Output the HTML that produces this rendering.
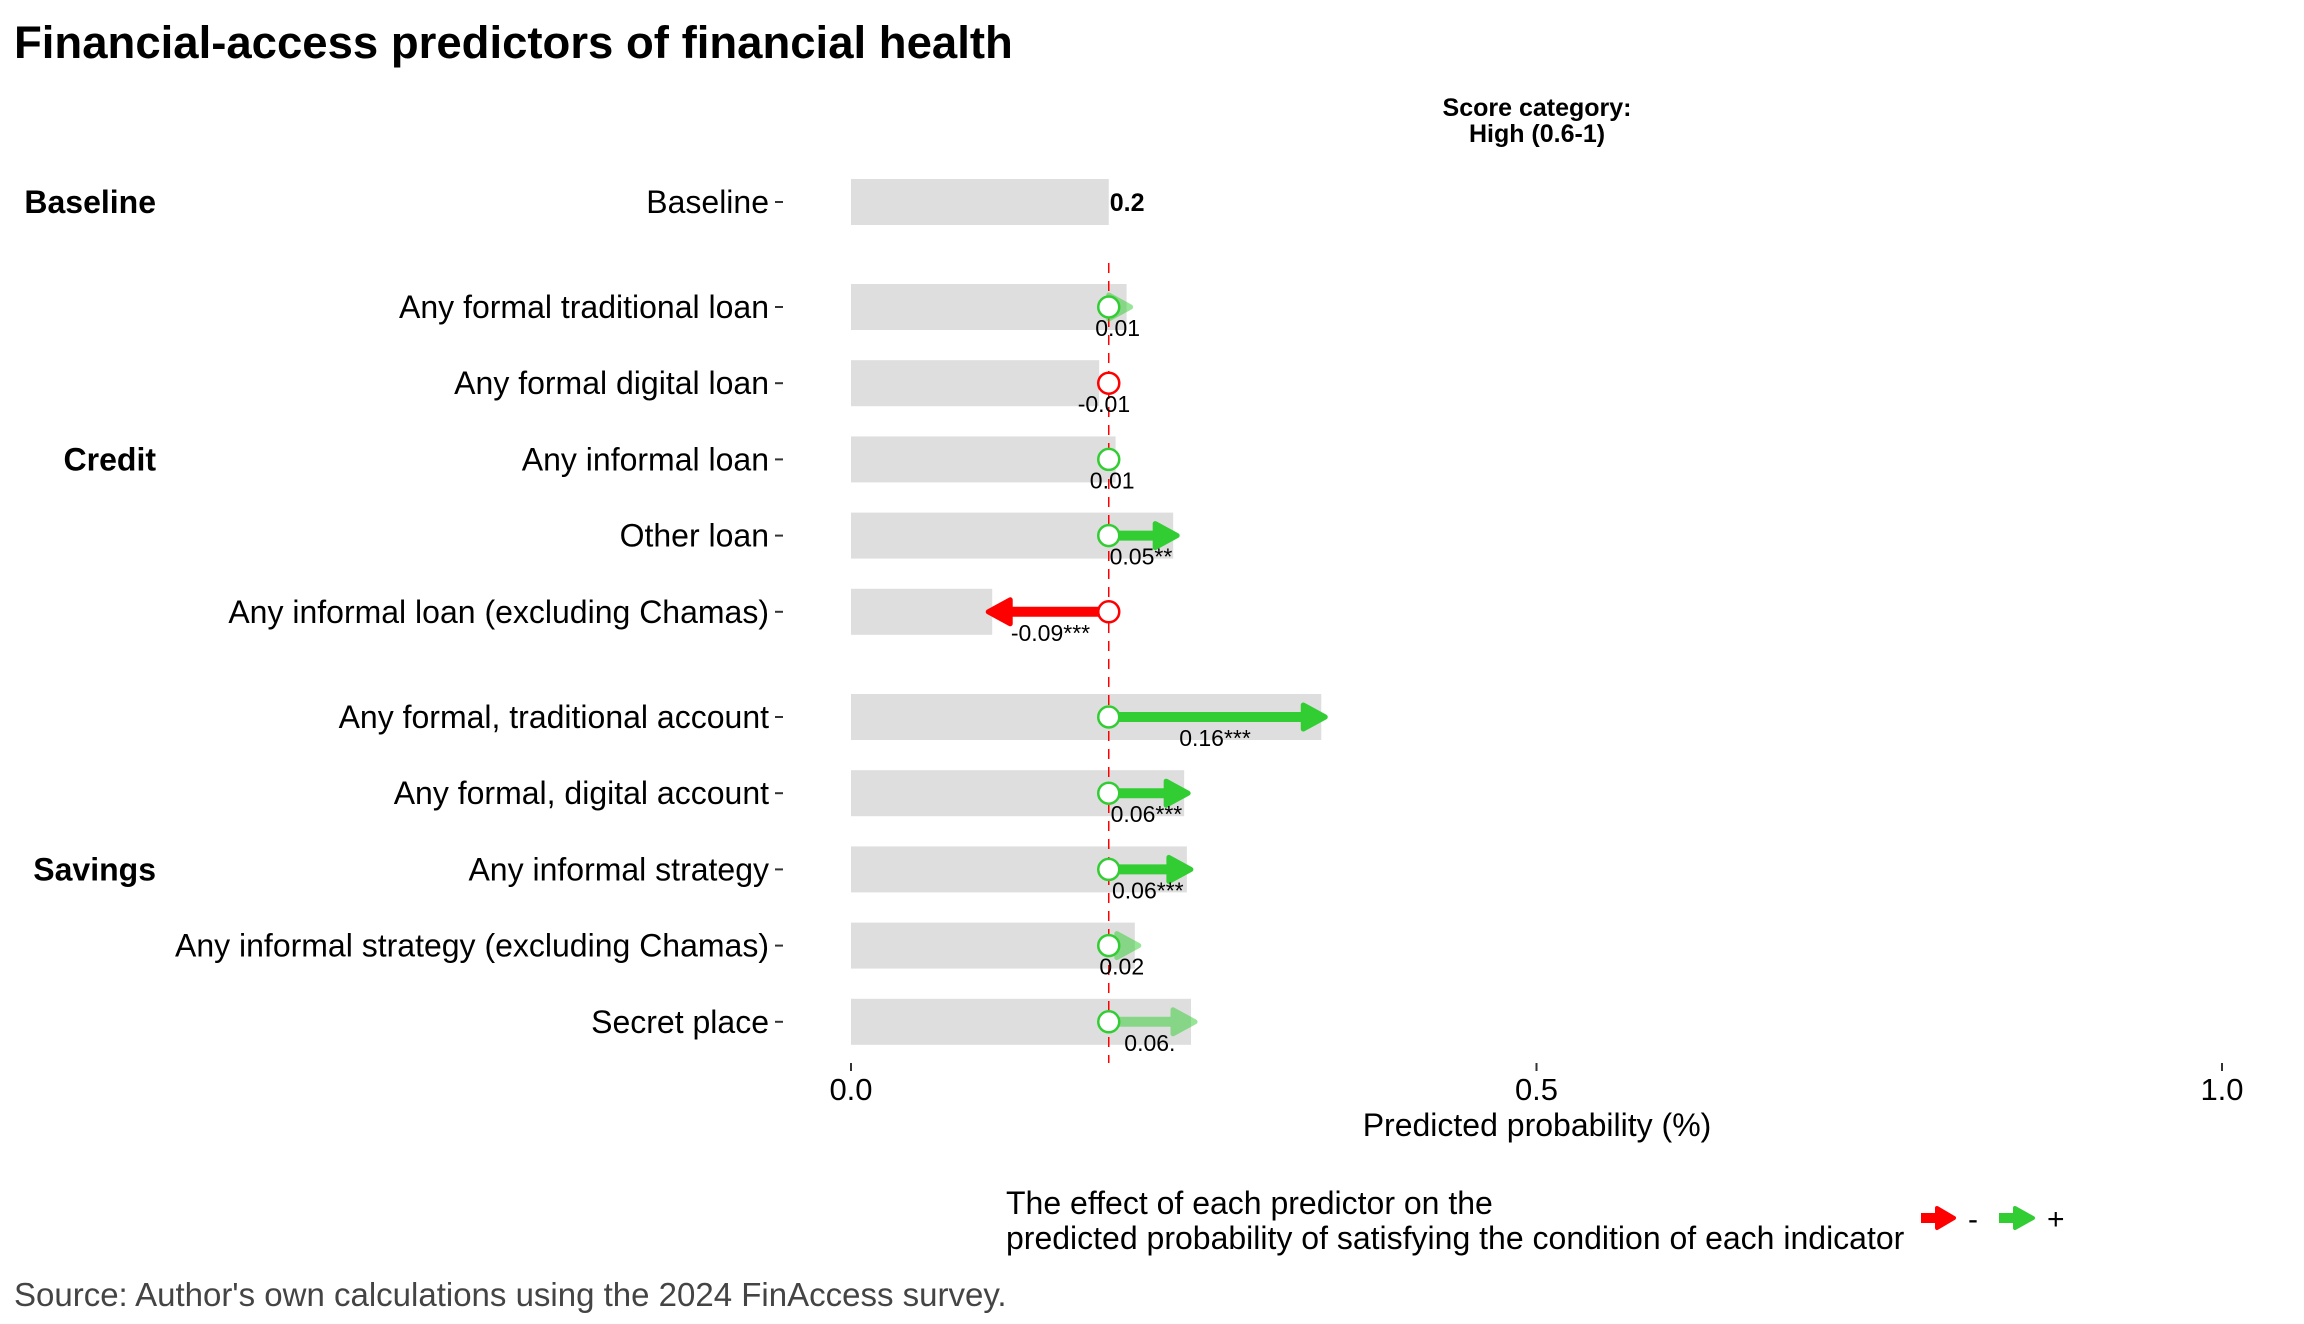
<!DOCTYPE html>
<html><head><meta charset="utf-8"><style>
html,body{margin:0;padding:0;background:#fff;}
svg{display:block;font-family:"Liberation Sans",Arial,sans-serif;}
</style></head><body>
<svg id="chart" width="2304" height="1324" viewBox="0 0 2304 1324" xmlns="http://www.w3.org/2000/svg">
<text x="14" y="58" font-size="45.5" font-weight="bold" fill="#000">Financial-access predictors of financial health</text>
<text x="1537" y="116" font-size="25" font-weight="bold" text-anchor="middle">Score category:</text>
<text x="1537" y="142" font-size="25" font-weight="bold" text-anchor="middle">High (0.6-1)</text>
<g id="plot"></g>
<text x="1537" y="1136" font-size="32" text-anchor="middle">Predicted probability (%)</text>
<g>
<text x="1006" y="1214" font-size="32">The effect of each predictor on the</text>
<text x="1006" y="1249" font-size="32">predicted probability of satisfying the condition of each indicator</text>
<g>
<line x1="1948" y1="1233" x2="1966" y2="1233" stroke="#ff0000" stroke-width="10" transform="translate(-27,-15)"/>
<polygon points="1964,1223 1981,1233 1964,1243" fill="#ff0000" stroke="#ff0000" stroke-width="4" stroke-linejoin="round" transform="translate(-27,-15)"/>
<text x="1968" y="1229" font-size="30">-</text></g>
<g>
<line x1="1999" y1="1218" x2="2017" y2="1218" stroke="#32cd32" stroke-width="10"/>
<polygon points="2015,1208 2033,1218 2015,1228" fill="#32cd32" stroke="#32cd32" stroke-width="4" stroke-linejoin="round"/>
<text x="2047" y="1229" font-size="30">+</text></g>
</g>
<text x="14" y="1306" font-size="33" fill="#444">Source: Author's own calculations using the 2024 FinAccess survey.</text>
</svg>
<script>
const categories = ["Baseline","Any formal traditional loan","Any formal digital loan","Any informal loan","Other loan","Any informal loan (excluding Chamas)","Any formal, traditional account","Any formal, digital account","Any informal strategy","Any informal strategy (excluding Chamas)","Secret place"];
const groups = ["Baseline","Credit","Credit","Credit","Credit","Credit","Savings","Savings","Savings","Savings","Savings"];
const baselineValue = 0.188;
const effects = [0, 0.013, -0.007, 0.005, 0.047, -0.085, 0.155, 0.055, 0.057, 0.019, 0.060];
const effectLabels = ["0.2","0.01","-0.01","0.01","0.05**","-0.09***","0.16***","0.06***","0.06***","0.02","0.06."];
const significant = [true,false,false,false,true,true,true,true,true,false,false];
const xTicks = [0, 0.5, 1.0];
const xTickLabels = ["0.0","0.5","1.0"];
const groupNames = ["Baseline","Credit","Savings"];

const NS="http://www.w3.org/2000/svg";
const plot=document.getElementById('plot');
function xs(v){return 851+v*1371;}
function ys(i){return i===0?202:307+(i-1)*76.2+(i>=6?29:0);}
function mk(tag,attrs,parent){const e=document.createElementNS(NS,tag);for(const k in attrs)e.setAttribute(k,attrs[k]);(parent||plot).appendChild(e);return e;}

categories.forEach((c,i)=>{
  const v=baselineValue+effects[i];
  const r=mk('rect',{x:xs(0),y:ys(i)-23,width:xs(v)-xs(0),height:46,fill:'#dedede'});
  
  
  const t=mk('text',{x:769,y:ys(i)+11,'font-size':32,'text-anchor':'end'});
  t.textContent=c;
  
  
  const tk=mk('line',{x1:775,x2:783,y1:ys(i),y2:ys(i),stroke:'#333','stroke-width':2});
  
  
});
groupNames.forEach(g=>{
  const idx=groups.map((x,i)=>x===g?i:-1).filter(i=>i>=0);
  const y=(ys(idx[0])+ys(idx[idx.length-1]))/2;
  const t=mk('text',{x:156,y:y+11,'font-size':32,'font-weight':'bold','text-anchor':'end'});
  t.textContent=g;
  
  
});
const dl=mk('line',{x1:xs(baselineValue),x2:xs(baselineValue),y1:263,y2:1063,stroke:'#ff0000','stroke-width':1.5,'stroke-dasharray':'10,8'});


const bl=mk('text',{x:xs(baselineValue)+1,y:ys(0)+9,'font-size':25,'font-weight':'bold'});
bl.textContent=effectLabels[0];


for(let i=1;i<categories.length;i++){
  const e=effects[i];
  const col=e>=0?'#32cd32':'#ff0000';
  const op=significant[i]?1:0.5;
  const x0=xs(baselineValue), x1=xs(baselineValue+e), y=ys(i);
  const dir=Math.sign(e)||1;
  const len=Math.abs(x1-x0);
  const g=mk('g',{opacity:op});
  
  
  if(len>12){
    const hl=Math.min(18,len);
    const hb=x1-dir*hl;
    mk('line',{x1:x0,y1:y,x2:hb,y2:y,stroke:col,'stroke-width':10},g);
    mk('polygon',{points:`${hb},${y-12} ${x1+dir*4},${y} ${hb},${y+12}`,fill:col,stroke:col,'stroke-width':5,'stroke-linejoin':'round'},g);
  }
  const c=mk('circle',{cx:x0,cy:y,r:10.5,fill:'#fff',stroke:col,'stroke-width':2.5});
  
  
  const t=mk('text',{x:(x0+x1)/2,y:y+29,'font-size':23,'text-anchor':'middle'});
  t.textContent=effectLabels[i];
  
  
}
xTicks.forEach((v,i)=>{
  const l=mk('line',{x1:xs(v),x2:xs(v),y1:1063,y2:1071,stroke:'#333','stroke-width':2});
  
  
  const t=mk('text',{x:xs(v),y:1100,'font-size':31,'text-anchor':'middle'});
  t.textContent=xTickLabels[i];
  
  
});
</script>
</body></html>
